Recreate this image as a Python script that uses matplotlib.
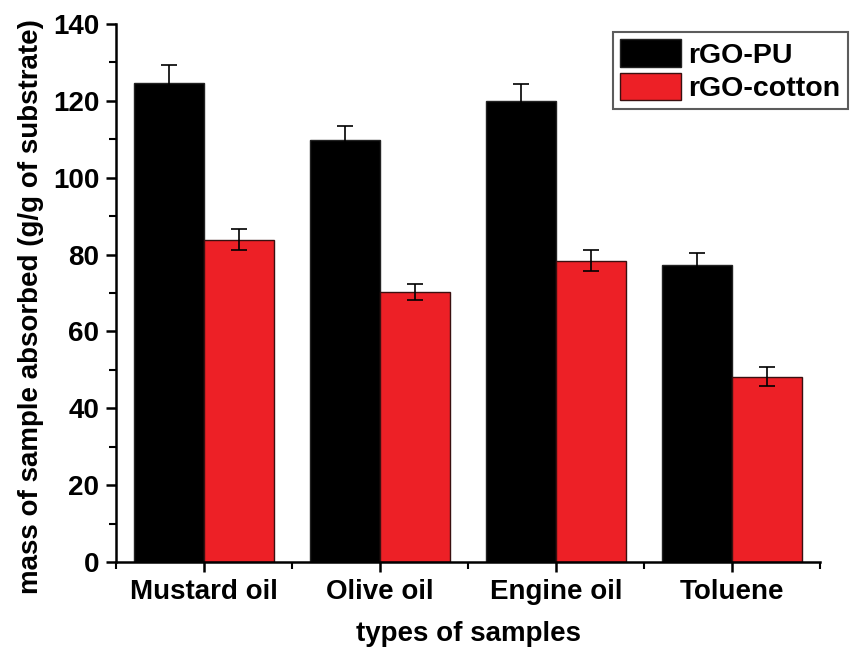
import matplotlib
matplotlib.use("Agg")
import matplotlib.pyplot as plt
from matplotlib.ticker import MultipleLocator, FixedLocator
import numpy as np

plt.rcParams['font.family'] = ['Liberation Sans', 'DejaVu Sans']
plt.rcParams['font.weight'] = 'bold'

categories = ["Mustard oil", "Olive oil", "Engine oil", "Toluene"]
pu_vals = [124.7, 109.9, 120.0, 77.4]
pu_err = [4.6, 3.6, 4.4, 3.1]
cotton_vals = [83.9, 70.3, 78.4, 48.2]
cotton_err = [2.8, 2.1, 2.8, 2.5]

x = np.arange(1, len(categories) + 1)
w = 0.4

fig = plt.figure(figsize=(8.5, 6.55), dpi=100)
ax = fig.add_axes([0.1365, 0.142, 0.8282, 0.8214])

ekw = dict(ecolor="black", elinewidth=1.2, capsize=6, capthick=1.2)
ax.bar(x - w / 2, pu_vals, width=w, color="black", edgecolor="#222222",
       linewidth=1, yerr=pu_err, error_kw=ekw, label="rGO-PU")
ax.bar(x + w / 2, cotton_vals, width=w, color="#ED2026", edgecolor="#3a1010",
       linewidth=1, yerr=cotton_err, error_kw=ekw, label="rGO-cotton")

ax.set_xlim(0.5, 4.5)
ax.set_ylim(0, 140)
ax.set_xticks(x)
ax.set_xticklabels(categories)
ax.xaxis.set_minor_locator(FixedLocator([0.5, 1.5, 2.5, 3.5, 4.5]))
ax.yaxis.set_major_locator(MultipleLocator(20))
ax.yaxis.set_minor_locator(MultipleLocator(10))

for s in ["top", "right"]:
    ax.spines[s].set_visible(False)
for s in ["left", "bottom"]:
    ax.spines[s].set_linewidth(1.8)

ax.tick_params(which="major", direction="out", length=7, width=1.8, labelsize=20, pad=5)
ax.tick_params(which="minor", direction="out", length=5, width=1.5)

ax.set_xlabel("types of samples", fontsize=20, fontweight="bold", labelpad=12)
ax.set_ylabel("mass of sample absorbed (g/g of substrate)", fontsize=20,
              fontweight="bold")
ax.yaxis.set_label_coords(-0.103, 0.475)

leg = fig.legend(loc="upper left", bbox_to_anchor=(0.721, 0.951), fontsize=20.5,
                 frameon=True, fancybox=False, edgecolor="#333333",
                 handlelength=2.15, handleheight=1.1, handletextpad=0.25,
                 borderpad=0.25, labelspacing=0.15, borderaxespad=0)
leg.get_frame().set_linewidth(1.5)

fig.savefig("out.png", dpi=100)
